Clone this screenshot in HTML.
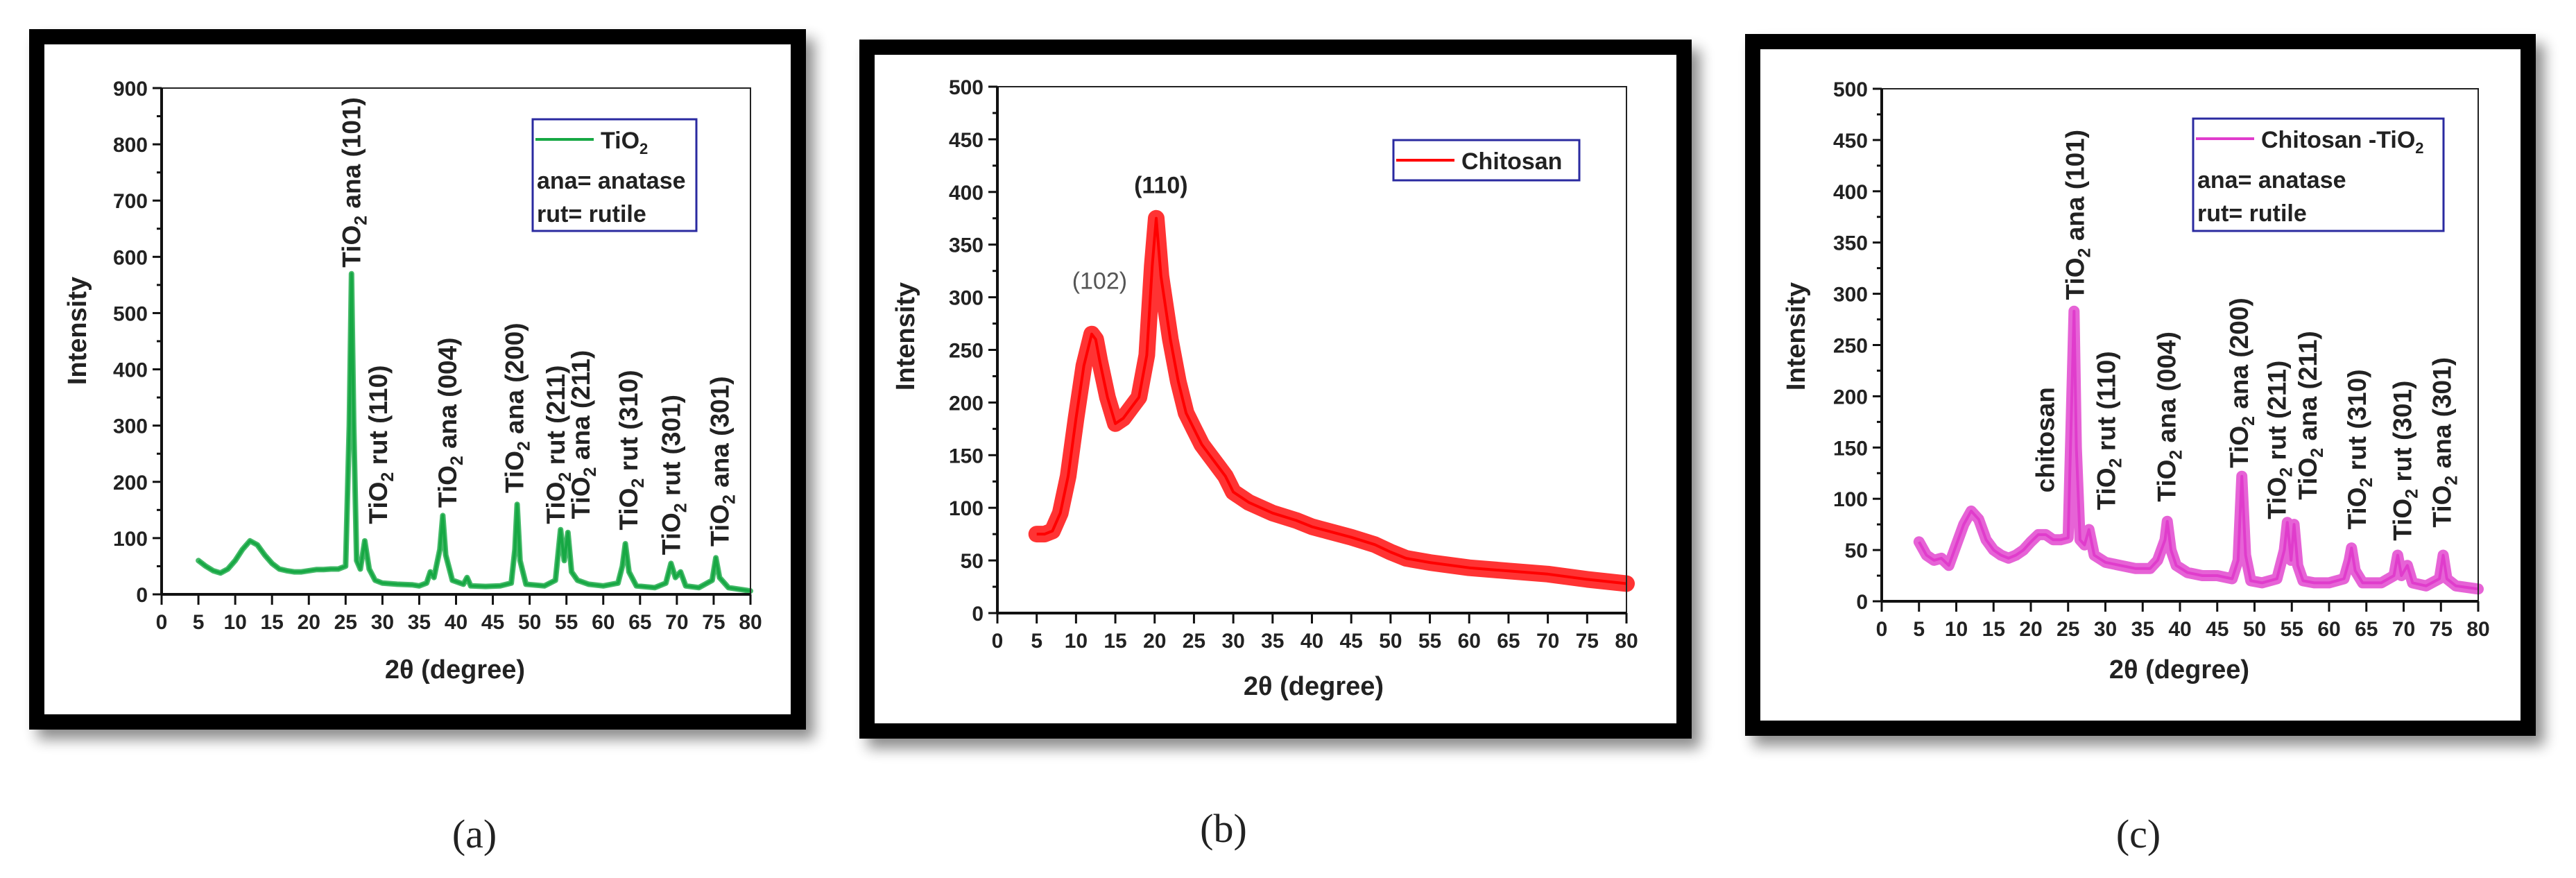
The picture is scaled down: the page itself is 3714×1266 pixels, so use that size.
<!DOCTYPE html>
<html><head><meta charset="utf-8">
<style>
html,body{margin:0;padding:0;background:#fff;}
svg{display:block;}
text{font-family:"Liberation Sans",Arial,sans-serif;}
</style></head>
<body>
<svg id="fig" width="3714" height="1266" viewBox="0 0 3714 1266" xmlns="http://www.w3.org/2000/svg">
<defs>
<filter id="sh" x="-10%" y="-10%" width="130%" height="130%"><feGaussianBlur stdDeviation="10"/></filter>
</defs>
</svg>
<script>
// ---- data (a) TiO2 ----
const tio2X=[5,6,7,8,9,10,11,12,13,14,15,16,17,18,19,20,21,22,23,24,25,25.5,25.8,26.1,26.5,27,27.6,28.2,29,30,32,34,35,36,36.5,37,37.8,38.2,38.6,39.5,41,41.5,42,44,46,47.5,48,48.3,48.7,49.5,52,53.5,54.2,54.7,55.2,55.7,56.5,58,60,62,62.6,63,63.5,64.5,67,68.5,69.2,69.8,70.5,71.2,73,74.8,75.3,75.8,77,80];
const tio2Y=[60,50,42,38,45,60,80,95,88,70,55,45,42,40,40,42,44,44,45,45,50,300,570,300,60,45,95,45,25,20,18,17,15,20,40,30,80,140,70,25,18,30,15,14,15,20,80,160,60,18,15,25,115,60,110,40,25,18,15,20,50,90,40,15,12,20,55,30,40,15,12,25,65,30,12,6];
// ---- data (b) Chitosan ----
const chitX=[5,6,7,8,9,10,11,12,12.5,13,14,15,16,17,18,19,19.7,20.2,20.8,22,23,24,25,26,27,28,29,30,32,35,38,40,42,45,48,50,52,55,60,65,70,75,80];
const chitY=[75,75,78,95,130,185,235,265,260,240,205,180,185,195,205,245,330,375,320,260,220,190,175,160,150,140,130,115,105,95,88,82,78,72,65,58,52,48,43,40,37,32,28];
// ---- data (c) Chitosan-TiO2 ----
const ctX=[5,6,7,8,9,10,11,12,13,14,15,16,17,18,19,20,21,22,23,24,25,25.5,25.8,26.1,26.6,27.2,27.8,28.5,30,32,34,36,37,38,38.3,38.8,39.5,41,43,45,47,47.8,48.3,48.8,49.5,51,53,54,54.4,54.9,55.3,55.8,56.5,58,60,62,62.7,63,63.5,64.5,67,68.7,69.2,69.7,70.5,71.2,73,74.8,75.3,75.8,77,80];
const ctY=[58,45,40,42,35,55,75,88,80,60,50,45,42,45,50,58,65,65,60,60,62,200,283,150,60,55,70,45,38,35,32,32,40,60,78,50,35,28,25,25,22,40,122,45,20,18,22,50,77,40,75,35,20,18,18,22,40,52,30,18,18,25,45,25,35,18,15,22,45,22,15,12];
// ---- ticks ----
const xTicks=[0,5,10,15,20,25,30,35,40,45,50,55,60,65,70,75,80];
const yTicksA=[0,100,200,300,400,500,600,700,800,900];
const yTicksBC=[0,50,100,150,200,250,300,350,400,450,500];
// ---- peak labels ----
const labA_text=["ana (101)","rut (110)","ana (004)","ana (200)","rut (211)","ana (211)","rut (310)","rut (301)","ana (301)"];
const labA_x=[25.75,29.4,38.8,47.9,53.5,56.9,63.4,69.2,75.8];
const labA_y=[581,125,154,180,125,134,114,70,85];
const labC_text=["ana (101)","rut (110)","ana (004)","ana (200)","rut (211)","ana (211)","rut (310)","rut (301)","ana (301)"];
const labC_x=[25.9,30.1,38.2,47.9,53.0,57.1,63.7,69.8,75.1];
const labC_y=[294,89,97,130,80,99,70,59,72];
const labB_text=["(102)","(110)"];
const labB_x=[13.0,20.8];
const labB_y=[308,399];

const NS="http://www.w3.org/2000/svg";
const svg=document.getElementById('fig');
function el(tag,attrs,parent,txt){const e=document.createElementNS(NS,tag);for(const k in attrs)e.setAttribute(k,attrs[k]);if(txt!==undefined)e.textContent=txt;(parent||svg).appendChild(e);return e;}

function frame(x1,y1,x2,y2,name){
  const g=el('g',{});
  
  
  el('rect',{x:x1+12,y:y1+14,width:x2-x1,height:y2-y1,fill:'#000',opacity:0.45,filter:'url(#sh)'},g);
  el('rect',{x:x1,y:y1,width:x2-x1,height:y2-y1,fill:'#000'},g);
  el('rect',{x:x1+22,y:y1+22,width:x2-x1-44,height:y2-y1-44,fill:'#fff'},g);
}

function panel(P){
  const g=el('g',{});
  
  
  const sx=v=>P.x0+(v-0)*(P.x1-P.x0)/80;
  const sy=v=>P.y0-v*(P.y0-P.yT)/P.ymax;
  let d='';P.xs.forEach((x,i)=>{d+=(i?'L':'M')+sx(x).toFixed(1)+' '+sy(P.ys[i]).toFixed(1);});
  const band=el('path',{d:d,fill:'none',stroke:P.color,'stroke-width':P.band,'stroke-linejoin':'round','stroke-linecap':'round',opacity:0.8},g);
  
  
  const line=el('path',{d:d,fill:'none',stroke:P.color,'stroke-width':4,'stroke-linejoin':'round'},g);
  
  
  el('rect',{x:P.x0,y:P.yT,width:P.x1-P.x0,height:P.y0-P.yT,fill:'none',stroke:'#222','stroke-width':2},g);
  el('line',{x1:P.x0,y1:P.y0,x2:P.x1,y2:P.y0,stroke:'#111','stroke-width':4},g);
  el('line',{x1:P.x0,y1:P.y0,x2:P.x0,y2:P.yT,stroke:'#111','stroke-width':4},g);
  xTicks.forEach(t=>{
    el('line',{x1:sx(t),y1:P.y0,x2:sx(t),y2:P.y0+15,stroke:'#111','stroke-width':3},g);
    const tx=el('text',{x:sx(t),y:P.y0+50,'font-size':30,'font-weight':'bold','text-anchor':'middle',fill:'#222'},g,String(t));
    
    
  });
  P.yt.forEach((t,i)=>{
    el('line',{x1:P.x0-13,y1:sy(t),x2:P.x0,y2:sy(t),stroke:'#111','stroke-width':3},g);
    if(i<P.yt.length-1){const m=(t+P.yt[i+1])/2;el('line',{x1:P.x0-7,y1:sy(m),x2:P.x0,y2:sy(m),stroke:'#111','stroke-width':3},g);}
    const ty=el('text',{x:P.x0-20,y:sy(t)+11,'font-size':30,'font-weight':'bold','text-anchor':'end',fill:'#222'},g,String(t));
    
    
  });
  const yt=el('text',{x:P.ytx,y:P.yty,'font-size':38,'font-weight':'bold','text-anchor':'middle',fill:'#222',transform:`rotate(-90 ${P.ytx} ${P.yty})`},g,'Intensity');
  
  
  const xt=el('text',{x:P.xtx,y:P.xty,'font-size':38,'font-weight':'bold','text-anchor':'middle',fill:'#222'},g,'2θ (degree)');
  
  
  return {g,sx,sy};
}

function tioLabel(g,sx,sy,x,y,txt,name){
  const X=sx(x)+13, Y=sy(y);
  const t=el('text',{x:X,y:Y,'font-size':37,'font-weight':'bold',fill:'#222',transform:`rotate(-90 ${X} ${Y})`},g);
  
  
  el('tspan',{},t,'TiO');
  el('tspan',{'font-size':25,dy:9},t,'2');
  el('tspan',{dy:-9},t,' '+txt);
}

function legend(g,x1,y1,x2,y2,color,label,extra,sub){
  const lg=el('g',{},g);
  
  
  el('rect',{x:x1,y:y1,width:x2-x1,height:y2-y1,fill:'#fff',stroke:'#2a2aa0','stroke-width':3},lg);
  el('line',{x1:x1+4,y1:y1+29,x2:x1+88,y2:y1+29,stroke:color,'stroke-width':4},lg);
  const t=el('text',{x:x1+98,y:y1+42,'font-size':34,'font-weight':'bold',fill:'#222'},lg,label);
  if(sub){el('tspan',{'font-size':22,dy:8},t,'2');}
  extra.forEach((s,i)=>{el('text',{x:x1+6,y:y1+100+i*48,'font-size':34,'font-weight':'bold',fill:'#222'},lg,s);});
}

frame(42,42,1162,1052,'frame-a');
frame(1239,57,2439,1065,'frame-b');
frame(2516,49,3656,1061,'frame-c');

const A=panel({name:'panel-a',x0:233,x1:1082,y0:857,yT:127,ymax:900,yt:yTicksA,xs:tio2X,ys:tio2Y,color:'#17a844',band:8,ytx:124,yty:477,xtx:656,xty:978});
labA_text.forEach((s,i)=>tioLabel(A.g,A.sx,A.sy,labA_x[i],labA_y[i],s,'peak-label-a'));
legend(A.g,768,172,1004,333,'#17a844','TiO',['ana= anatase','rut= rutile'],true);

const B=panel({name:'panel-b',x0:1438,x1:2345,y0:884,yT:125,ymax:500,yt:yTicksBC,xs:chitX,ys:chitY,color:'#ff0000',band:24,ytx:1318,yty:485,xtx:1894,xty:1002});
labB_text.forEach((s,i)=>{
  const t=el('text',{x:B.sx(labB_x[i]),y:B.sy(labB_y[i]),'font-size':34,'font-weight':i?'bold':'normal','text-anchor':'middle',fill:i?'#222':'#555'},B.g,s);
  
  
});
legend(B.g,2009,202,2277,260,'#ff0000','Chitosan',[],false);

const C=panel({name:'panel-c',x0:2713,x1:3573,y0:867,yT:128,ymax:500,yt:yTicksBC,xs:ctX,ys:ctY,color:'#e03ccc',band:16,ytx:2602,yty:485,xtx:3142,xty:978});
{const X=C.sx(21.9)+13,Y=C.sy(106);
 const t=el('text',{x:X,y:Y,'font-size':37,'font-weight':'bold',fill:'#222',transform:`rotate(-90 ${X} ${Y})`},C.g,'chitosan');
 
 }
labC_text.forEach((s,i)=>tioLabel(C.g,C.sx,C.sy,labC_x[i],labC_y[i],s,'peak-label-c'));
legend(C.g,3162,171,3523,333,'#e03ccc','Chitosan -TiO',['ana= anatase','rut= rutile'],true);

[['(a)',684,1222],['(b)',1764,1214],['(c)',3083,1222]].forEach(c=>{
  const t=el('text',{x:c[1],y:c[2],'font-size':58,'text-anchor':'middle',fill:'#222',style:'font-family:"Liberation Serif",serif'},svg,c[0]);
  
  
});
</script>
</body></html>
